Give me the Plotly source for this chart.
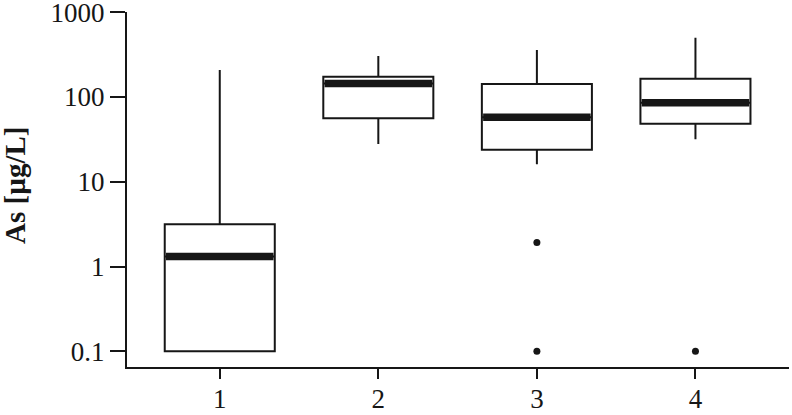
import plotly.graph_objects as go

groups = [1, 2, 3, 4]
q1 = [0.1, 56, 23.9, 48.3]
median = [1.31, 144.5, 57.5, 85.5]
q3 = [3.16, 173, 142, 164]
lower = [0.1, 27.9, 16.1, 31.7]
upper = [207.5, 305, 357, 498]
outlier_x = [3, 3, 4]
outlier_y = [1.92, 0.1, 0.1]

y_ticks = [0.1, 1, 10, 100, 1000]
y_ticklabels = ["0.1", "1", "10", "100", "1000"]

BOXW = 0.694
INK = "#161616"
FONT = "Liberation Serif, Times New Roman, serif"

fig = go.Figure()
fig.add_trace(go.Box(
    x=groups, q1=q1, median=median, q3=q3,
    lowerfence=lower, upperfence=upper,
    boxpoints=False, width=BOXW, whiskerwidth=0,
    line=dict(color=INK, width=2), fillcolor="white",
    showlegend=False, hoverinfo="skip",
))

mx, my = [], []
inner = BOXW - 0.016
for g, m in zip(groups, median):
    mx += [g - inner / 2, g + inner / 2, None]
    my += [m, m, None]
fig.add_trace(go.Scatter(x=mx, y=my, mode="lines",
                         line=dict(color=INK, width=7.5),
                         showlegend=False, hoverinfo="skip"))

fig.add_trace(go.Scatter(x=outlier_x, y=outlier_y, mode="markers",
                         marker=dict(color=INK, size=7),
                         showlegend=False, hoverinfo="skip", cliponaxis=False))

fig.add_annotation(text="<b>As [µg/L]</b>", textangle=-90,
                   xref="paper", yref="paper", x=0, y=0.51,
                   xanchor="center", yanchor="middle", xshift=-112,
                   showarrow=False,
                   font=dict(family=FONT, size=29, color=INK))

fig.update_layout(
    width=792, height=415,
    margin=dict(l=127, r=3, t=12, b=48),
    paper_bgcolor="white", plot_bgcolor="white",
    font=dict(family=FONT, size=27, color=INK),
    xaxis=dict(range=[0.415, 4.59], tickvals=groups,
               ticktext=[str(g) for g in groups],
               showline=True, linecolor=INK, linewidth=2,
               ticks="outside", ticklen=10, tickwidth=2, tickcolor=INK,
               showgrid=False, zeroline=False, automargin=False,
               ticklabeloverflow="allow", ticklabelstandoff=-3),
    yaxis=dict(type="log", range=[-1.185, 3.002], tickvals=y_ticks,
               ticktext=y_ticklabels,
               showline=True, linecolor=INK, linewidth=2,
               ticks="outside", ticklen=15, tickwidth=2, tickcolor=INK,
               showgrid=False, zeroline=False, automargin=False,
               ticklabeloverflow="allow"),
)

fig.write_html("out.html", config={"displayModeBar": False})
with open("out.html", encoding="utf-8") as f:
    html = f.read()
html = html.replace("<body>", '<body style="margin:0;padding:0;overflow:hidden">', 1)
with open("out.html", "w", encoding="utf-8") as f:
    f.write(html)
